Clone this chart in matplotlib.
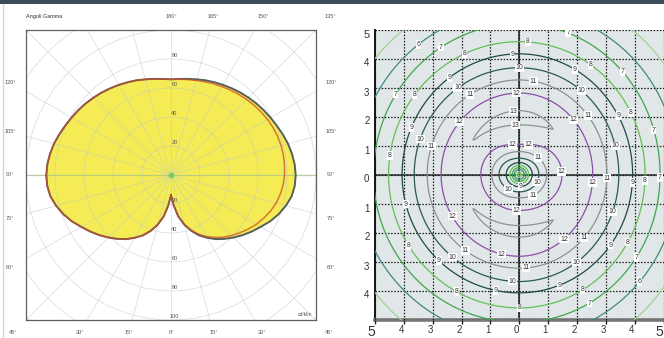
import numpy as np
import matplotlib
matplotlib.use('Agg')
import matplotlib.pyplot as plt
from matplotlib.patches import Rectangle, Circle
from matplotlib.lines import Line2D

plt.rcParams['font.family'] = ['Liberation Sans', 'DejaVu Sans']

# ---- left: polar intensity diagram (cd/klm) ----
gamma = np.arange(0, 181, 5)
# C90-C270 plane (filled, same on both sides)
i_c90 = [14, 21, 29, 35.5, 41, 46, 50, 54, 57.5, 61, 64.5, 68, 71.5, 75.5, 79, 82, 84.5, 85.7,
         86, 85.6, 84.7, 83.5, 82, 80.5, 79.2, 78, 76.8, 75.5, 74.3, 73, 71.8, 70.6, 69.5,
         68.3, 67.3, 66.5, 66]
# C0 plane (red curve, right half)
i_c0 = [14, 21, 29, 35, 40.5, 45, 49, 52.5, 56, 59, 62, 65, 68, 70.5, 73, 75, 76.5, 77.7,
        78.3, 78.6, 78.7, 78.6, 78.2, 77.6, 76.8, 75.8, 74.8, 73.7, 72.6, 71.5, 70.4, 69.4,
        68.4, 67.5, 66.8, 66.3, 66]
radial_ticks = [20, 40, 60, 80, 100]
side_angles = [60, 75, 90, 105, 120]
bottom_angles = [45, 30, 15, 0]
top_angles = [135, 150, 165, 180]

# ---- right: illuminance contours (lux), crossings read along the half axes ----
levels = [4, 5, 6, 7, 8, 9, 10, 11, 12, 13]
up_r = [0, 0.05, 0.10, 0.17, 0.24, 0.32, 0.41, 0.56, 0.79, 1.04, 1.71, 1.95, 2.20, 2.81, 3.26,
        3.68, 4.16, 4.58, 5.20, 5.70, 6.40, 7.60]
up_e = [3, 4, 5, 6, 7, 8, 9, 10, 11, 12, 13, 13.35, 13, 12, 11, 10, 9, 8, 7, 6, 5, 4]
down_r = [0, 0.05, 0.10, 0.17, 0.24, 0.32, 0.42, 0.60, 0.80, 1.24, 1.76, 1.96, 2.16, 2.82, 3.23,
          3.69, 4.08, 4.60, 5.10, 5.65, 6.50, 7.60]
down_e = [3, 4, 5, 6, 7, 8, 9, 10, 11, 12, 13, 13.35, 13, 12, 11, 10, 9, 8, 7, 6, 5, 4]
right_r = [0, 0.05, 0.10, 0.17, 0.24, 0.32, 0.45, 0.68, 0.95, 1.48, 1.95, 2.55, 3.04, 3.45, 3.93,
           4.36, 4.88, 5.50, 6.20, 7.40]
right_e = [3, 4, 5, 6, 7, 8, 9, 10, 11, 12, 12.4, 12, 11, 10, 9, 8, 7, 6, 5, 4]
left_r = [0, 0.05, 0.10, 0.17, 0.24, 0.32, 0.45, 0.70, 0.95, 1.33, 2.00, 2.71, 3.19, 3.64, 4.06,
          4.53, 5.05, 5.65, 6.40, 7.60]
left_e = [3, 4, 5, 6, 7, 8, 9, 10, 11, 12, 12.85, 12, 11, 10, 9, 8, 7, 6, 5, 4]
level_colors = ['#7cc96a', '#9fd38d', '#3f8a7c', '#3fa64a', '#62bf55', '#1f4a44', '#2b5953',
                '#8c9293', '#8d4ea8', '#8c9293']
x_labels = ['5', '4', '3', '2', '1', '0', '1', '2', '3', '4', '5']
y_labels = ['', '4', '3', '2', '1', '0', '1', '2', '3', '4', '5']

# where the contour labels sit
label_spots = [(-3.5, 4.5), (-2.7, 4.37), (-1.94, 4.23), (0.3, 4.58), (-0.24, 4.16), (0, 3.68),
               (0.5, 3.26), (-0.1, 2.8), (-0.2, 2.2), (1.67, 4.82), (1.9, 3.57), (2.47, 3.78),
               (3.54, 3.5), (2.15, 2.9), (-2.43, 3.38), (-2.15, 3.02), (-1.74, 2.8), (-4.3, 2.78),
               (-3.68, 2.78), (2.4, 2.05), (3.47, 2.05), (3.9, 2.15), (-2.1, 1.85), (-3.78, 1.63),
               (-3.44, 1.22), (-3.1, 1.0), (-4.51, 0.66), (-0.14, 1.7), (1.94, 1.92), (4.65, 1.53),
               (3.37, 1.0), (-0.24, 1.19), (0.31, 0.91), (0.59, 0.5), (1.46, 0.1), (2.53, -0.27),
               (3.02, -0.13), (3.9, -0.27), (4.34, -0.2), (4.86, -0.1), (0.55, -0.23),
               (0.04, -0.37), (-0.42, -0.58), (0.52, -0.86), (-0.1, -1.24), (-3.96, -1.03),
               (-2.4, -1.48), (3.3, -1.31), (-3.89, -2.48), (1.56, -2.24), (2.22, -2.16),
               (3.16, -2.44), (3.78, -2.34), (4.06, -2.86), (4.17, -3.69), (-2.85, -3.04),
               (-2.36, -2.9), (-1.9, -2.66), (-0.63, -2.79), (0.24, -3.24), (2.01, -3.04),
               (-0.24, -3.69), (1.42, -3.86), (2.19, -3.97), (-0.83, -4.04), (-2.19, -4.04),
               (2.43, -4.42), (0, -4.6)]

W, H = 664, 338
fig = plt.figure(figsize=(W / 100, H / 100), dpi=100)
fig.patch.set_facecolor('white')
fig.add_artist(Rectangle((0, 1 - 4 / H), 1, 4 / H, transform=fig.transFigure,
                         color='#3b4d56', lw=0))
fig.add_artist(Line2D([2.5 / W, 2.5 / W], [0, 1 - 4 / H], color='#d6d6d6', lw=1))

# ---------------- polar diagram ----------------
ax1 = fig.add_axes([26 / W, 1 - 320 / H, 290 / W, 290 / H])
ax1.set_xlim(-100, 100)
ax1.set_ylim(-100, 100)
ax1.set_xticks([])
ax1.set_yticks([])
for sp in ax1.spines.values():
    sp.set_color('#5f5f5f')
    sp.set_linewidth(0.9)

g = np.radians(gamma)
i90 = np.array(i_c90)
i0 = np.array(i_c0)
xo = np.concatenate([-i90 * np.sin(g), (i90 * np.sin(g))[::-1]])
yo = np.concatenate([-i90 * np.cos(g), (-i90 * np.cos(g))[::-1]])
xr = np.concatenate([-i90 * np.sin(g), (i0 * np.sin(g))[::-1]])
yr = np.concatenate([-i90 * np.cos(g), (-i0 * np.cos(g))[::-1]])
ax1.fill(xo, yo, color='#f5ec55', lw=0, zorder=1)

gridc = '#b4c6cc'
for r in range(20, 201, 20):
    ax1.add_patch(Circle((0, 0), r, fill=False, ec=gridc, lw=0.5, alpha=0.6, zorder=2))
for a in range(0, 360, 15):
    t = np.radians(a)
    if a % 180 == 90:
        ax1.plot([0, 300 * np.sin(t)], [0, -300 * np.cos(t)], color='#a8c48a', lw=0.9,
                 alpha=0.8, zorder=2)
    else:
        ax1.plot([0, 300 * np.sin(t)], [0, -300 * np.cos(t)], color=gridc, lw=0.5,
                 alpha=0.6, zorder=2)

ax1.plot(xo, yo, color='#55605a', lw=1.4, zorder=4)
ax1.plot(xr, yr, color='#cc4f2a', lw=1.1, alpha=0.75, zorder=5)
ax1.plot([0], [0], 'o', ms=3, color='#72d05c', zorder=6)

for r in radial_ticks:
    if r < 100:
        ax1.text(2.4, r + 2.6, str(r), fontsize=4, color='#555', ha='center', va='center', zorder=7)
    ax1.text(2.4, -r + 2.2, str(r), fontsize=4, color='#555', ha='center', va='center', zorder=7)

lab = dict(fontsize=4, color='#555', ha='center', va='center', clip_on=False)
for a in side_angles:
    yy = -111 / np.tan(np.radians(a)) if a != 90 else 0
    ax1.text(-111, yy, '%d°' % a, **lab)
    ax1.text(110.5, yy, '%d°' % a, **lab)
for a in bottom_angles:
    xx = 109 * np.tan(np.radians(a))
    ax1.text(-xx, -108.5, '%d°' % a, **lab)
    if a:
        ax1.text(xx, -108.5, '%d°' % a, **lab)
for a in top_angles:
    ax1.text(110 * np.tan(np.radians(180 - a)), 109.5, '%d°' % a, **lab)
ax1.text(-100, 109.5, 'Angoli Gamma', fontsize=4, color='#333', ha='left', va='center',
         clip_on=False)
ax1.text(97, -96, 'cd/klm', fontsize=3.5, color='#555', ha='right', va='center')

# ---------------- illuminance contours ----------------
ax2 = fig.add_axes([375 / W, 1 - 319.5 / H, 288.5 / W, 290 / H])
ax2.set_facecolor('#e1e7e9')
xs = np.linspace(-5.3, 5.3, 531)
X, Y = np.meshgrid(xs, xs)
R = np.hypot(X, Y)
PHI = np.arctan2(Y, X)
c, s = np.cos(PHI), np.sin(PHI)
E = (np.clip(c, 0, None) ** 2 * np.interp(R, right_r, right_e)
     + np.clip(-c, 0, None) ** 2 * np.interp(R, left_r, left_e)
     + np.clip(s, 0, None) ** 2 * np.interp(R, up_r, up_e)
     + np.clip(-s, 0, None) ** 2 * np.interp(R, down_r, down_e))

cs = ax2.contour(X, Y, E, levels=levels, colors=level_colors, linewidths=0.9, zorder=3)
texts = ax2.clabel(cs, fmt='%d', fontsize=5, inline=True, inline_spacing=0, manual=label_spots)
for t in texts:
    t.set_rotation(0)
    t.set_color('#333')
    t.set_bbox(dict(facecolor='white', edgecolor='none', pad=0.5))

ax2.set_xlim(-5, 5)
ax2.set_ylim(-5, 5)
ax2.set_xticks(range(-5, 6))
ax2.set_yticks(range(-5, 6))
ax2.set_xticklabels(x_labels)
ax2.set_yticklabels(y_labels)
ax2.grid(True, color='#1a1a1a', lw=0.9, ls=(0, (1.2, 1.3)), zorder=2)
ax2.set_axisbelow(False)
ax2.axvline(0, color='#1a1a1a', lw=1.1, zorder=2.5)
ax2.axhline(0, color='#555', lw=1.4, zorder=2.5)
ax2.spines['top'].set_visible(False)
ax2.spines['right'].set_visible(False)
ax2.spines['left'].set_color('#111')
ax2.spines['left'].set_linewidth(1.4)
ax2.spines['bottom'].set_color('#777')
ax2.spines['bottom'].set_linewidth(2.6)
ax2.tick_params(axis='x', length=3, width=1, color='#222', pad=1, labelcolor='#333', labelsize=7)
ax2.tick_params(axis='y', length=0, pad=4, labelcolor='#333', labelsize=7)
for i, lb in enumerate(ax2.get_xticklabels()):
    lb.set_ha('right')
    if i in (0, 10):
        lb.set_fontsize(10)
for i, lb in enumerate(ax2.get_yticklabels()):
    lb.set_va('top')
    if i == 10:
        lb.set_fontsize(8)

fig.savefig('out.png', dpi=100)
